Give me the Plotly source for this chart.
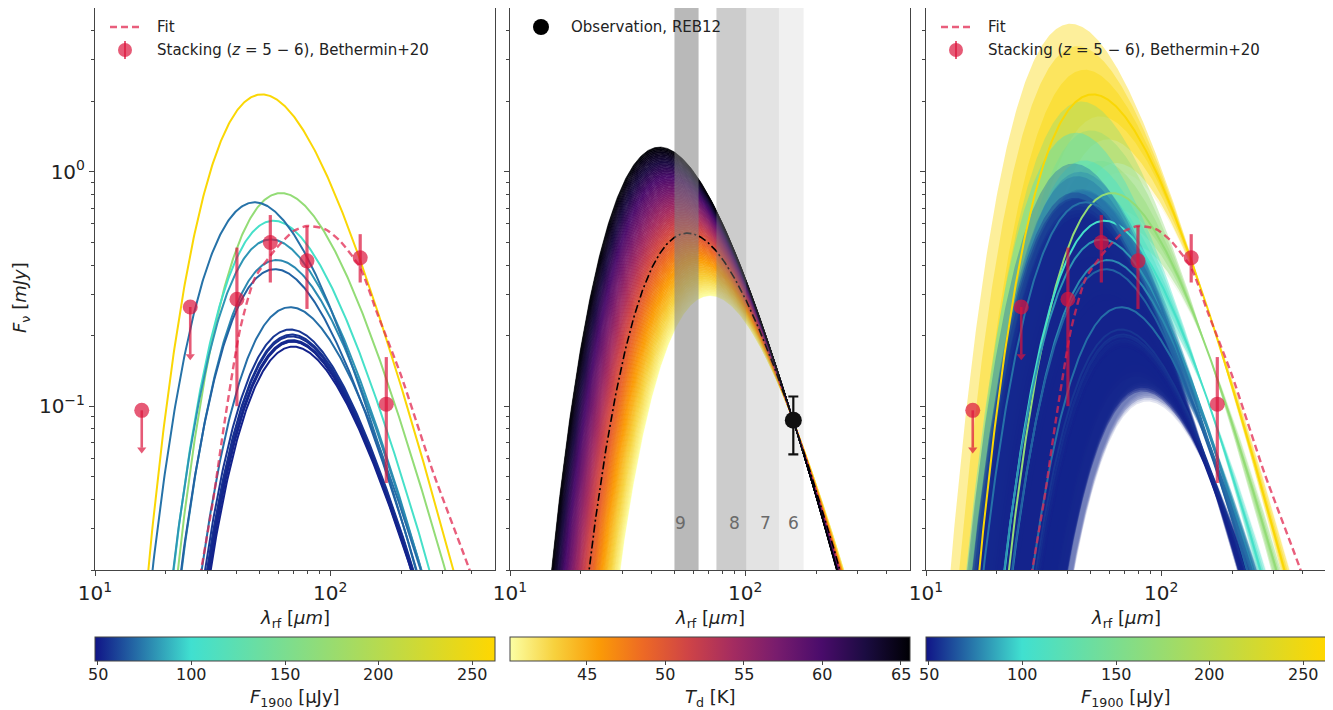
import numpy as np
import plotly.graph_objects as go
from plotly.colors import sample_colorscale, sequential

# ------------------------------------------------------------------ data
# individual galaxies: flux density at rest 1900 GHz (uJy) and dust temperature (K)
gal_F1900 = [258, 170, 105, 72, 81, 78, 68, 71, 57, 56, 55, 54, 54, 53, 52]
gal_Td = [55.5, 46.0, 49.5, 59.5, 50.8, 48.0, 48.8, 42.0, 42.0, 41.5, 41.5, 41.2, 41.0, 41.3, 40.8]
gal_Td_lo = [44, 38, 39, 43, 40, 38, 37, 34, 34, 34, 34, 34, 34, 34, 34]
gal_Td_hi = [69, 62, 65.5, 67, 63, 60, 60, 62, 66, 65, 64, 63, 66, 64, 63]
F1900_range = [48.5, 262]
F1900_ticks = [50, 100, 150, 200, 250]
beta = 2.1
lam_1900 = 158.0  # rest wavelength of 1900 GHz [um]

# stacking (z = 5-6), Bethermin+20
stack_lam = [15.8, 25.4, 40.1, 55.6, 79.6, 134, 173]
stack_F = [0.096, 0.265, 0.286, 0.499, 0.417, 0.43, 0.102]
stack_F_hi = [0.096, 0.265, 0.475, 0.654, 0.587, 0.542, 0.162]
stack_F_lo = [0.064, 0.16, 0.10, 0.337, 0.26, 0.337, 0.047]
stack_uplim = [True, True, False, False, False, False, False]

# fit to the stack
fit_lam = [27.5, 28.5, 31.8, 35.5, 41.4, 47.9, 59.3, 70, 79.6, 95, 110, 134, 158, 200, 274, 386, 420]
fit_F = [0.017, 0.021, 0.040, 0.085, 0.214, 0.354, 0.475, 0.56, 0.587, 0.57, 0.507, 0.39, 0.25,
         0.135, 0.052, 0.0207, 0.016]

# observation REB12
obs_lam = 160.0
obs_F = 0.087
obs_F_lo = 0.0623
obs_F_hi = 0.11
Td_range = [40.1, 65.6]
Td_ticks = [45, 50, 55, 60, 65]
Td_ref = 50.0

# ALMA bands in rest frame
alma_band = ["9", "8", "7", "6"]
alma_lo = [50.0, 75.4, 101.0, 139.0]
alma_hi = [63.3, 101.0, 139.0, 177.0]
alma_label_lam = [52.8, 90.0, 122.0, 160.0]
alma_label_F = 0.0318

# ------------------------------------------------------------------ helpers
W, H = 1333, 710
OFF = 8  # page body margin
FONT = "DejaVu Sans"
TXT = "#222222"
AX = "#444444"
RED = "rgba(220,20,60,0.7)"


def px(x):
    return min(max((x - OFF) / W, 0.0), 1.0)


def py(y):
    return min(max(1 - (y - OFF) / H, 0.0), 1.0)


def ptext(x, y, text, size=15, anchor="center", angle=0, color=TXT):
    fig.add_annotation(x=px(x), y=py(y), xref="paper", yref="paper", text=text,
                       showarrow=False, xanchor=anchor, yanchor="middle", textangle=angle,
                       font=dict(size=size, color=color, family=FONT))


lam = np.logspace(1.0, 2.7, 500)


def mbb(l, T):
    x = 14388.0 / (l * T)
    return x ** (3 + beta) / np.expm1(x)


def sed(l, T, F_ref, l_ref):
    return F_ref * mbb(l, T) / mbb(l_ref, T)


F_cscale = [[0.0, "rgb(16,20,135)"], [0.24, "rgb(64,224,208)"], [1.0, "rgb(255,215,0)"]]
T_cscale = [[i / (len(sequential.Inferno) - 1), c] for i, c in enumerate(sequential.Inferno[::-1])]


def fcol(F):
    t = (F - F1900_range[0]) / (F1900_range[1] - F1900_range[0])
    return sample_colorscale(F_cscale, [min(max(t, 0), 1)], colortype="tuple")[0]


def to_rgb(c, a=None):
    r, g, b = [float(v) for v in c]
    if max(r, g, b) <= 1.0:
        r, g, b = r * 255, g * 255, b * 255
    if a is None:
        return f"rgb({r:.0f},{g:.0f},{b:.0f})"
    return f"rgba({r:.0f},{g:.0f},{b:.0f},{a})"


def parse_rgb(s):
    s = s[s.index("(") + 1:s.index(")")]
    return tuple(float(v) for v in s.split(","))


fig = go.Figure()

doms = [(95, 495), (510, 910), (926, 1326)]
axn = ["", "2", "3"]

# ------------------------------------------------------------------ panel 3 bands (drawn first)
order = np.argsort(gal_F1900)[::-1]
K = 3
for i in order:
    c = fcol(gal_F1900[i])
    # faint extra halo on the cold side
    up = sed(lam, gal_Td[i], gal_F1900[i] / 1000, lam_1900)
    lo = sed(lam, gal_Td_lo[i] - 1.5, gal_F1900[i] / 1000, lam_1900)
    fig.add_trace(go.Scatter(
        x=np.concatenate([lam, lam[::-1]]), y=np.concatenate([up, lo[::-1]]),
        fill="toself", fillcolor=to_rgb(c, 0.12), line=dict(width=0),
        mode="lines", hoverinfo="skip", showlegend=False, xaxis="x3", yaxis="y3"))
    for k in range(1, K + 1):
        f = k / K
        tlo = gal_Td[i] - (gal_Td[i] - gal_Td_lo[i]) * f
        thi = gal_Td[i] + (gal_Td_hi[i] - gal_Td[i]) * f
        up = sed(lam, thi, gal_F1900[i] / 1000, lam_1900)
        lo = sed(lam, tlo, gal_F1900[i] / 1000, lam_1900)
        fig.add_trace(go.Scatter(
            x=np.concatenate([lam, lam[::-1]]), y=np.concatenate([up, lo[::-1]]),
            fill="toself", fillcolor=to_rgb(c, 0.4), line=dict(width=0),
            mode="lines", hoverinfo="skip", showlegend=False, xaxis="x3", yaxis="y3"))

# ------------------------------------------------------------------ galaxy lines in panels 1 and 3
for xa, ya in [("x", "y"), ("x3", "y3")]:
    for i in order:
        c = fcol(gal_F1900[i])
        fig.add_trace(go.Scatter(
            x=lam, y=sed(lam, gal_Td[i], gal_F1900[i] / 1000, lam_1900), mode="lines",
            line=dict(color=to_rgb(c), width=2), hoverinfo="skip", showlegend=False,
            xaxis=xa, yaxis=ya))
    fig.add_trace(go.Scatter(
        x=fit_lam, y=fit_F, mode="lines", line=dict(color="rgba(225,40,80,0.75)", width=2.4,
                                                   dash="7px,4px", shape="spline", smoothing=0.6),
        hoverinfo="skip", showlegend=False, xaxis=xa, yaxis=ya))
    ehi = [0 if u else h - f for u, h, f in zip(stack_uplim, stack_F_hi, stack_F)]
    elo = [0 if u else f - l for u, l, f in zip(stack_uplim, stack_F_lo, stack_F)]
    # upper-limit arrows (shaft + head)
    for l, f, lo, u in zip(stack_lam, stack_F, stack_F_lo, stack_uplim):
        if u:
            fig.add_trace(go.Scatter(x=[l, l], y=[f, lo * 1.04], mode="lines",
                                     line=dict(color=RED, width=2.6), hoverinfo="skip",
                                     showlegend=False, xaxis=xa, yaxis=ya))
            fig.add_trace(go.Scatter(x=[l], y=[lo * 1.02], mode="markers",
                                     marker=dict(symbol="triangle-down", size=8, color=RED),
                                     hoverinfo="skip", showlegend=False, xaxis=xa, yaxis=ya))
    fig.add_trace(go.Scatter(
        x=stack_lam, y=stack_F, mode="markers",
        marker=dict(size=15, color=RED, line=dict(width=0)),
        error_y=dict(type="data", symmetric=False, array=ehi, arrayminus=elo,
                     color=RED, thickness=3.2, width=0),
        hoverinfo="skip", showlegend=False, xaxis=xa, yaxis=ya))

# ------------------------------------------------------------------ panel 2 gradient
nT = 90
Ts = np.linspace(Td_range[0], Td_range[1], nT + 1)
curves = [sed(lam, T, obs_F, obs_lam) for T in Ts]
for j in range(nT):
    t = (0.5 * (Ts[j] + Ts[j + 1]) - Td_range[0]) / (Td_range[1] - Td_range[0])
    col = to_rgb(parse_rgb(sample_colorscale(T_cscale, [t])[0]))
    fig.add_trace(go.Scatter(
        x=np.concatenate([lam, lam[::-1]]), y=np.concatenate([curves[j + 1], curves[j][::-1]]),
        fill="toself", fillcolor=col, line=dict(width=0.6, color=col), mode="lines",
        hoverinfo="skip", showlegend=False, xaxis="x2", yaxis="y2"))
fig.add_trace(go.Scatter(
    x=lam, y=sed(lam, Td_ref, obs_F, obs_lam), mode="lines",
    line=dict(color="black", width=1.6, dash="8px,3px,2px,3px"),
    hoverinfo="skip", showlegend=False, xaxis="x2", yaxis="y2"))
fig.add_trace(go.Scatter(
    x=[obs_lam], y=[obs_F], mode="markers", marker=dict(size=17, color="black"),
    error_y=dict(type="data", symmetric=False, array=[obs_F_hi - obs_F],
                 arrayminus=[obs_F - obs_F_lo], color="black", thickness=2.2, width=5),
    hoverinfo="skip", showlegend=False, xaxis="x2", yaxis="y2"))

band_alpha = [0.55, 0.4, 0.22, 0.12]
for lo, hi, a in zip(alma_lo, alma_hi, band_alpha):
    fig.add_shape(type="rect", xref="x2", yref="y2 domain", x0=lo, x1=hi,
                  y0=0, y1=1, fillcolor=f"rgba(128,128,128,{a})", line=dict(width=0), layer="above")
for b, l in zip(alma_band, alma_label_lam):
    fig.add_annotation(x=np.log10(l), y=np.log10(alma_label_F), xref="x2", yref="y2", text=b,
                       showarrow=False, xanchor="center", yanchor="middle",
                       font=dict(size=17, color="#6a6a6a", family=FONT))

# ------------------------------------------------------------------ colorbars (dummy traces)
for k, (ca, xa, ya) in enumerate([("coloraxis", "x", "y"), ("coloraxis2", "x2", "y2"),
                                  ("coloraxis3", "x3", "y3")]):
    rng = Td_range if k == 1 else F1900_range
    fig.add_trace(go.Scatter(x=[20, 30], y=[1e-4, 1e-4], mode="markers",
                             marker=dict(color=rng, coloraxis=ca, size=1),
                             hoverinfo="skip", showlegend=False, xaxis=xa, yaxis=ya))


def cbar(x0, x1, tickvals):
    return dict(orientation="h", x=px((x0 + x1) / 2), xanchor="center", y=py(637), yanchor="top",
                len=x1 - x0, lenmode="pixels", thickness=24, thicknessmode="pixels",
                xpad=0, ypad=0, outlinewidth=1, outlinecolor=AX, ticks="outside", ticklen=4,
                tickcolor=AX, tickvals=tickvals, showticklabels=False)


fig.update_layout(
    coloraxis=dict(colorscale=F_cscale, cmin=F1900_range[0], cmax=F1900_range[1],
                   colorbar=cbar(95, 495, F1900_ticks)),
    coloraxis2=dict(colorscale=T_cscale, cmin=Td_range[0], cmax=Td_range[1],
                    colorbar=cbar(510, 910, Td_ticks)),
    coloraxis3=dict(colorscale=F_cscale, cmin=F1900_range[0], cmax=F1900_range[1],
                    colorbar=cbar(926, 1326, F1900_ticks)),
)

for (d0, d1), rng, ticks in [((95, 495), F1900_range, F1900_ticks),
                             ((510, 910), Td_range, Td_ticks),
                             ((926, 1326), F1900_range, F1900_ticks)]:
    for v in ticks:
        xx = d0 + (v - rng[0]) / (rng[1] - rng[0]) * (d1 - d0)
        ptext(xx, 674, str(v), size=16)

# ------------------------------------------------------------------ axes
xminor = [20, 30, 40, 50, 60, 70, 80, 90, 200, 300, 400]
yminor = [0.02, 0.03, 0.04, 0.05, 0.06, 0.07, 0.08, 0.09, 0.2, 0.3, 0.4, 0.5, 0.6, 0.7, 0.8,
          0.9, 2, 3, 4]
for k, (d0, d1) in enumerate(doms):
    n = axn[k]
    fig.update_layout(**{
        "xaxis" + n: dict(type="log", range=[1, 2.7], domain=[px(d0), px(d1)], anchor="y" + n,
                          showline=True, mirror=True, linecolor=AX, linewidth=1, ticks="outside",
                          ticklen=5, tickcolor=AX, tickvals=[10, 100],
                          ticktext=["10<sup>1</sup>", "10<sup>2</sup>"],
                          tickfont=dict(size=20, color=TXT, family=FONT), showgrid=False,
                          zeroline=False,
                          minor=dict(tickvals=xminor, ticks="outside", ticklen=3, tickcolor=AX,
                                     showgrid=False)),
        "yaxis" + n: dict(type="log", range=[np.log10(0.02), np.log10(5)],
                          domain=[py(570), py(6.7)], anchor="x" + n, showline=True, mirror=True,
                          linecolor=AX, linewidth=1, ticks="outside", ticklen=5, tickcolor=AX,
                          tickvals=[0.1, 1], ticktext=["10<sup>−1</sup>", "10<sup>0</sup>"],
                          showticklabels=(k == 0),
                          tickfont=dict(size=20, color=TXT, family=FONT), showgrid=False,
                          zeroline=False,
                          minor=dict(tickvals=yminor, ticks="outside", ticklen=3, tickcolor=AX,
                                     showgrid=False)),
    })
    ptext((d0 + d1) / 2, 619, "<i>λ</i><sub>rf</sub> [<i>μm</i>]", size=18)
    ctitle = "<i>T</i><sub>d</sub> [K]" if k == 1 else "<i>F</i><sub>1900</sub> [μJy]"
    ptext((d0 + d1) / 2, 698, ctitle, size=18)

ptext(21, 298, "<i>F</i><sub>ν</sub> [<i>mJy</i>]", size=18, angle=-90)

# ------------------------------------------------------------------ legends (manual)
for off in [0, 831]:
    fig.add_shape(type="line", xref="paper", yref="paper", x0=px(110 + off), x1=px(142 + off),
                  y0=py(27), y1=py(27), line=dict(color="rgba(225,40,80,0.75)", width=2.4,
                                                   dash="7px,4px"))
    fig.add_shape(type="circle", xref="paper", yref="paper", x0=px(118 + off), x1=px(132 + off),
                  y0=py(57), y1=py(43), fillcolor=RED, line=dict(width=0))
    fig.add_shape(type="line", xref="paper", yref="paper", x0=px(125 + off), x1=px(125 + off),
                  y0=py(59), y1=py(41), line=dict(color=RED, width=2))
    ptext(155 + off, 27, "Fit", anchor="left")
    ptext(155 + off, 50, "Stacking (<i>z</i> = 5 − 6), Bethermin+20", anchor="left")
fig.add_shape(type="circle", xref="paper", yref="paper", x0=px(533), x1=px(549),
              y0=py(35), y1=py(19), fillcolor="black", line=dict(width=0))
ptext(569, 27, "Observation, REB12", anchor="left")

fig.update_layout(width=W, height=H, margin=dict(l=0, r=0, t=0, b=0, autoexpand=False),
                  paper_bgcolor="white", plot_bgcolor="white",
                  font=dict(family=FONT, color=TXT), showlegend=False)

fig.write_html("out.html")
